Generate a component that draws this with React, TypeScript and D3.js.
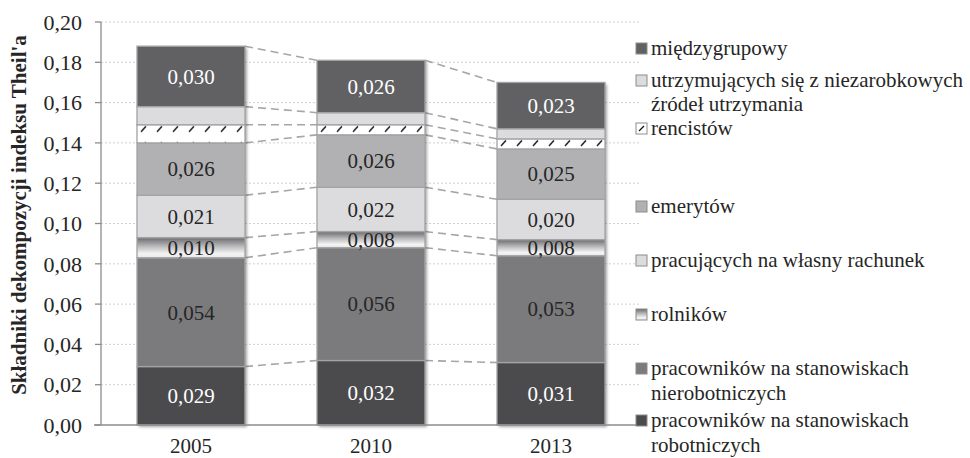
import React from "react";
import * as d3 from "d3";

const years = ["2005", "2010", "2013"];
const robotniczych = [0.029, 0.032, 0.031];
const nierobotniczych = [0.054, 0.056, 0.053];
const rolnikow = [0.010, 0.008, 0.008];
const wlasnyRachunek = [0.021, 0.022, 0.020];
const emerytow = [0.026, 0.026, 0.025];
const rencistow = [0.009, 0.005, 0.005];
const utrzymujacych = [0.009, 0.006, 0.005];
const miedzygrupowy = [0.030, 0.026, 0.023];
const yTicks = [0, 0.02, 0.04, 0.06, 0.08, 0.1, 0.12, 0.14, 0.16, 0.18, 0.2];

type S = { key: string; name: string[]; values: number[]; fill: string; text: string | null };

const series: S[] = [
  { key: "rob", name: ["pracowników na stanowiskach", "robotniczych"], values: robotniczych, fill: "#4b4b4d", text: "#ffffff" },
  { key: "nierob", name: ["pracowników na stanowiskach", "nierobotniczych"], values: nierobotniczych, fill: "#7b7b7d", text: "#262626" },
  { key: "rol", name: ["rolników"], values: rolnikow, fill: "url(#gradRol)", text: "#262626" },
  { key: "wlasny", name: ["pracujących na własny rachunek"], values: wlasnyRachunek, fill: "#dcdcde", text: "#262626" },
  { key: "emer", name: ["emerytów"], values: emerytow, fill: "#b1b1b3", text: "#262626" },
  { key: "renc", name: ["rencistów"], values: rencistow, fill: "hatch", text: null },
  { key: "utrz", name: ["utrzymujących się z niezarobkowych", "źródeł utrzymania"], values: utrzymujacych, fill: "#dcdcde", text: null },
  { key: "miedzy", name: ["międzygrupowy"], values: miedzygrupowy, fill: "#616163", text: "#ffffff" },
];

const fmt = (v: number) => v.toFixed(3).replace(".", ",");
const fmtTick = (v: number) => v.toFixed(2).replace(".", ",");
const FONT = "'Liberation Serif', 'Times New Roman', 'DejaVu Serif', serif";
const tStyle = { fontFamily: FONT };

export default function App() {
  const W = 970, H = 458;
  const left = 101, right = 641, top = 22, bottom = 425;
  const y = d3.scaleLinear().domain([0, 0.2]).range([bottom, top]);
  const x = d3.scaleBand().domain(years).range([left, right]).paddingInner(0.4).paddingOuter(0.2);
  const bw = x.bandwidth();

  const table = years.map((yr, i) => {
    const o: any = { year: yr };
    series.forEach((s) => (o[s.key] = s.values[i]));
    return o;
  });
  const stacked = d3.stack<any>().keys(series.map((s) => s.key))(table);

  const legendBase = [427, 375, 321, 267, 213, 135, 87, 55];
  const legendLine = [25, 25, 25, 25, 25, 25, 24, 25];

  return (
    <svg width={W} height={H} style={{ position: "absolute", left: 0, top: 0, background: "#fff", fontFamily: FONT }}>
      <defs>
        <linearGradient id="gradRol" x1="0" y1="0" x2="0" y2="1">
          <stop offset="0" stopColor="#6a6a6c" />
          <stop offset="0.45" stopColor="#bdbdbf" />
          <stop offset="0.8" stopColor="#f4f4f4" />
          <stop offset="1" stopColor="#e6e6e6" />
        </linearGradient>
        {years.map((yr, i) => {
          const seg = stacked[5][i];
          return (
            <pattern key={yr} id={`hatch${i}`} patternUnits="userSpaceOnUse" x={(x(yr) as number) + 1} y={y(seg[1])} width={16} height={16}>
              <rect width={16} height={16} fill="#fff" />
              <line x1={3} y1={7} x2={8} y2={1.5} stroke="#111" strokeWidth={1.4} />
            </pattern>
          );
        })}
        <filter id="shadow" x="-10%" y="-10%" width="130%" height="130%">
          <feDropShadow dx={2} dy={2} stdDeviation={1.8} floodColor="#000" floodOpacity={0.35} />
        </filter>
      </defs>

      {/* gridlines */}
      {yTicks.slice(1).map((t) => (
        <line key={t} x1={left} x2={right} y1={y(t)} y2={y(t)} stroke="#d0d0d0" strokeWidth={1} strokeDasharray="2,2" />
      ))}

      {/* connector lines */}
      {stacked.map((layer, li) =>
        years.slice(0, -1).map((yr, i) => (
          <line
            key={`c${li}-${i}`}
            x1={(x(yr) as number) + bw}
            y1={y(layer[i][1])}
            x2={x(years[i + 1]) as number}
            y2={y(layer[i + 1][1])}
            stroke="#a6a6a6"
            strokeWidth={1.6}
            strokeDasharray="8,5"
          />
        ))
      )}

      {/* bars */}
      {years.map((yr, i) => (
        <g key={yr}>
          <rect x={x(yr)} y={y(stacked[stacked.length - 1][i][1])} width={bw} height={y(0) - y(stacked[stacked.length - 1][i][1])} fill="#fff" filter="url(#shadow)" />
          {stacked.map((layer, li) => {
            const s = series[li];
            const d = layer[i];
            const fill = s.fill === "hatch" ? `url(#hatch${i})` : s.fill;
            return (
              <rect key={s.key} x={x(yr)} y={y(d[1])} width={bw} height={y(d[0]) - y(d[1])} fill={fill} stroke="#a3a3a5" strokeWidth={1.3} />
            );
          })}
          {stacked.map((layer, li) => {
            const s = series[li];
            if (!s.text) return null;
            const d = layer[i];
            return (
              <text key={`t${s.key}`} style={tStyle} x={(x(yr) as number) + bw / 2} y={(y(d[0]) + y(d[1])) / 2} dy="0.35em" textAnchor="middle" fontSize={21} fill={s.text}>
                {fmt(s.values[i])}
              </text>
            );
          })}
        </g>
      ))}

      {/* axes */}
      <line x1={left} x2={left} y1={top} y2={bottom} stroke="#8c8c8c" strokeWidth={1.3} />
      <line x1={left - 7} x2={right} y1={bottom} y2={bottom} stroke="#8c8c8c" strokeWidth={1.3} />
      {yTicks.map((t) => (
        <g key={`yt${t}`}>
          <line x1={left - 6} x2={left} y1={y(t)} y2={y(t)} stroke="#8c8c8c" strokeWidth={1.3} />
          <text style={tStyle} x={82} y={y(t)} dy="0.35em" textAnchor="end" fontSize={22} fill="#262626">
            {fmtTick(t)}
          </text>
        </g>
      ))}
      {years.map((yr) => (
        <text key={`x${yr}`} style={tStyle} x={(x(yr) as number) + bw / 2} y={453} textAnchor="middle" fontSize={21} fill="#262626">
          {yr}
        </text>
      ))}
      <text style={tStyle} transform={`translate(26,215) rotate(-90)`} textAnchor="middle" fontSize={21} fontWeight="bold" fill="#262626">
        Składniki dekompozycji indeksu Theil'a
      </text>

      {/* legend */}
      {series.map((s, li) => {
        const b = legendBase[li];
        const mx = 636, my = b - 12;
        return (
          <g key={`lg${s.key}`}>
            {s.fill === "hatch" ? (
              <g>
                <rect x={mx} y={my} width={11} height={11} fill="#fff" stroke="#8c8c8c" strokeWidth={1} />
                <line x1={mx + 3} y1={my + 8} x2={mx + 8} y2={my + 3} stroke="#111" strokeWidth={1.2} />
              </g>
            ) : (
              <rect x={mx} y={my} width={11} height={11} fill={s.fill} stroke="#8c8c8c" strokeWidth={1} />
            )}
            {s.name.map((ln, k) => (
              <text key={k} style={tStyle} x={651} y={b + k * legendLine[li]} fontSize={21} fill="#262626">
                {ln}
              </text>
            ))}
          </g>
        );
      })}
    </svg>
  );
}
